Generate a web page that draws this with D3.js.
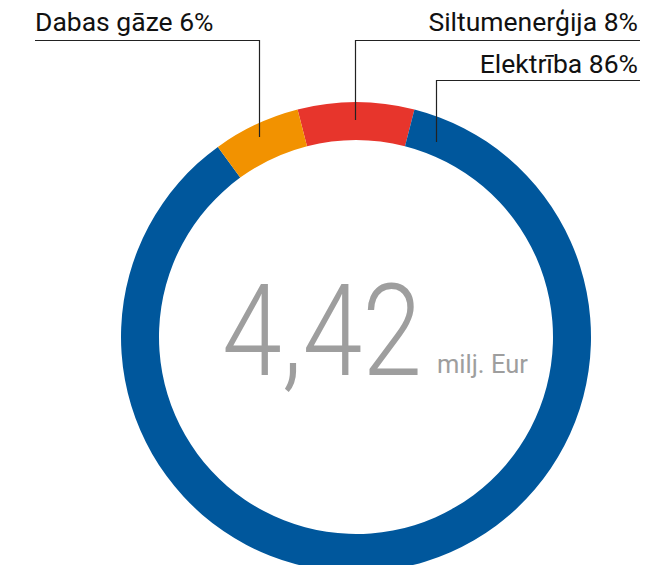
<!DOCTYPE html>
<html><head><meta charset="utf-8">
<script src="https://cdn.jsdelivr.net/npm/d3@7"></script>
<style>body{margin:0;background:#fff}svg{display:block}text{font-family:Roboto,"Noto Sans",sans-serif}</style>
</head><body><svg id="c" width="646" height="565"></svg>
<script>
const categories = ["Siltumenerģija", "Elektrība", "Dabas gāze"];
const shares = [8, 86, 6];
const colors = ["#e7352c", "#00579c", "#f29200"];
const totalLabel = "4,42";
const unitLabel = "milj. Eur";

const svg = d3.select("#c");
const cx = 356, cy = 337, rOuter = 235, rInner = 197;
const startA = -Math.PI * shares[0] / 100;
const pie = d3.pie().sort(null).value(d => d).startAngle(startA).endAngle(startA + 2 * Math.PI);
const arcs = pie(shares);
const arc = d3.arc().innerRadius(rInner).outerRadius(rOuter);
const g = svg.append("g").attr("transform", `translate(${cx},${cy})`);
g.selectAll("path").data(arcs).join("path").attr("d", arc).attr("fill", (d, i) => colors[i]);

// labels with leader lines
const labelCfg = [
  {i: 0, anchor: "end", tx: 638, ty: 31, lineY: 40.5, x0: 355.5, x1: 640, endY: 120},
  {i: 1, anchor: "end", tx: 638, ty: 73, lineY: 80.5, x0: 436.5, x1: 640, endY: 142},
  {i: 2, anchor: "start", tx: 35, ty: 31, lineY: 40.5, x0: 35, x1: 259.5, endY: 137}
];
labelCfg.forEach(c => {
  svg.append("path")
    .attr("d", `M${c.anchor === "end" ? c.x1 : c.x0},${c.lineY}H${c.anchor === "end" ? c.x0 : c.x1}V${c.endY}`)
    .attr("fill", "none").attr("stroke", "#222").attr("stroke-width", 1.2);
  svg.append("text").attr("x", c.tx).attr("y", c.ty).attr("text-anchor", c.anchor)
    .attr("font-size", 26.5).attr("fill", "#111")
    .text(`${categories[c.i]} ${shares[c.i]}%`);
});

const big = svg.append("text").attr("x", 0).attr("y", 0).attr("font-size", 128).attr("font-weight", 300)
  .attr("fill", "#9e9e9e").text(totalLabel);
const len = big.node().getComputedTextLength();
big.attr("transform", `translate(222,375) scale(${200 / len},1)`);
svg.append("text").attr("x", 437).attr("y", 373).attr("font-size", 25.5).attr("font-weight", 400)
  .attr("fill", "#9e9e9e").text(unitLabel);
</script></body></html>
